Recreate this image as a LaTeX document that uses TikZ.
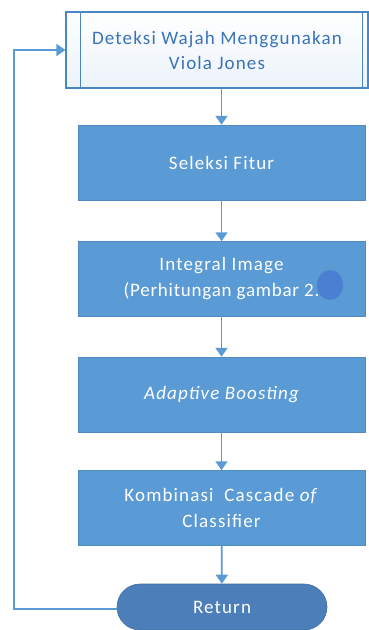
\documentclass[tikz,border=0pt]{standalone}
\usepackage{fontspec}
\setmainfont{Carlito}
\newfontfamily\boxfont[LetterSpace=6]{Carlito}
\newfontfamily\tightfont[LetterSpace=4]{Carlito}
\usetikzlibrary{arrows.meta,shapes.misc}
\definecolor{boxblue}{HTML}{5B9BD5}
\definecolor{edgeblue}{HTML}{4A86C5}
\definecolor{darkblue}{HTML}{4C7FBA}
\definecolor{textblue}{HTML}{3A73B8}
\definecolor{blobblue}{HTML}{4A7FD2}
\tikzset{
  stepbox/.style={draw=boxblue!90!black, line width=0.5pt, fill=boxblue,
    text=white, align=center, font=\boxfont\fontsize{19}{26}\selectfont,
    minimum width=287pt, minimum height=75pt, inner sep=0pt},
  flow/.style={draw=boxblue, line width=1.8pt,
    -{Triangle[length=9pt,width=12pt]}},
}
\begin{document}
\begin{tikzpicture}[x=1pt,y=-1pt]
\useasboundingbox (0,0) rectangle (368,630);
% predefined-process box at the top
\node[draw=edgeblue, line width=1.2pt, top color=white, bottom color=boxblue!12,
  minimum width=302pt, minimum height=76pt, inner sep=0pt,
  text=textblue, align=center, font=\boxfont\fontsize{19}{25}\selectfont]
  (det) at (217,50) {Deteksi Wajah Menggunakan\\Viola Jones};
\draw[edgeblue, line width=1.2pt] ([xshift=15pt]det.north west) -- ([xshift=15pt]det.south west);
\draw[edgeblue, line width=1.2pt] ([xshift=-6pt]det.north east) -- ([xshift=-6pt]det.south east);
% processing steps
\node[stepbox] (sel) at (221.5,162.5) {Seleksi Fitur};
\node[stepbox] (int) at (221.5,279) {Integral Image\\{\tightfont(Perhitungan gambar 2.}};
\fill[blobblue] (330,285) ellipse (13pt and 15pt);
\node[stepbox, font=\boxfont\fontsize{19}{26}\selectfont\itshape] (ada) at (221.5,394.5) {Adaptive Boosting};
\node[stepbox] (kom) at (221.5,508) {Kombinasi~ Cascade \textit{of}\\Classifier};
% terminator
\node[draw=darkblue!85!black, line width=0.6pt, fill=darkblue, rounded rectangle,
  minimum width=210pt, minimum height=46pt, inner sep=0pt,
  text=white, font=\boxfont\fontsize{19}{26}\selectfont] (ret) at (222,607) {Return};
% connectors
\draw[flow] (det.south -| sel.north) -- (sel.north);
\draw[flow] (sel) -- (int);
\draw[flow] (int) -- (ada);
\draw[flow] (ada) -- (kom);
\draw[flow] (kom) -- (ret);
\coordinate (c1) at (14,609);
\coordinate (c2) at (14,50);
\draw[flow] (ret.west |- c1) -- (c1) -- (c2) -- (det.west |- c2);
\end{tikzpicture}
\end{document}
